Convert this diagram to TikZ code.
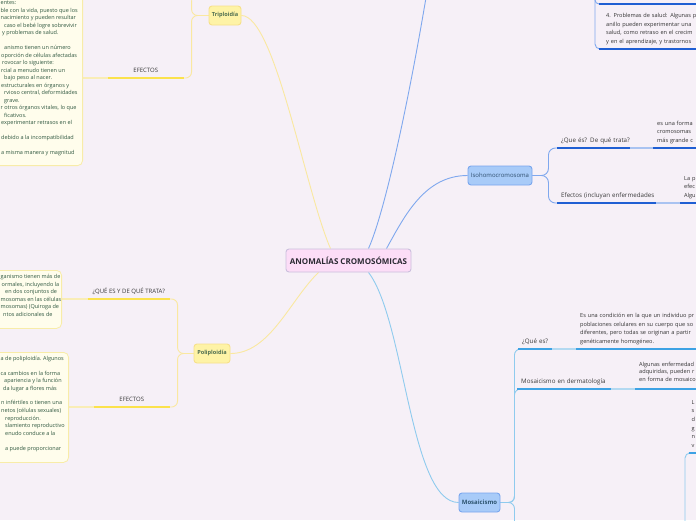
\documentclass[tikz,border=0pt]{standalone}
\usepackage{fontspec}
\setmainfont{Open Sans}
\usetikzlibrary{backgrounds}
\definecolor{bg}{HTML}{F6F0F7}
\definecolor{ctrfill}{HTML}{FCDDF7}
\definecolor{ctrdraw}{HTML}{CBBFDD}
\definecolor{ctrtext}{HTML}{2B2A33}
\definecolor{yfill}{HTML}{FEF3A6}
\definecolor{ydraw}{HTML}{F6E08A}
\definecolor{ytext}{HTML}{4E6E50}
\definecolor{yline}{HTML}{FAE8A0}
\definecolor{yul}{HTML}{FBE24C}
\definecolor{ylight}{HTML}{F9EDB6}
\definecolor{cbfill}{HTML}{FFFDEC}
\definecolor{cbdraw}{HTML}{F8ECA8}
\definecolor{cbtext}{HTML}{305840}
\definecolor{bfill}{HTML}{A8CBF8}
\definecolor{bdraw}{HTML}{79A6EE}
\definecolor{btext}{HTML}{2F4F6F}
\definecolor{mtext}{HTML}{2E5570}
\definecolor{bline}{HTML}{7FA8EE}
\definecolor{bul}{HTML}{1F5FD3}
\definecolor{blight}{HTML}{A9C3F1}
\definecolor{mline}{HTML}{8FCBEE}
\definecolor{mul}{HTML}{3DA2E4}
\definecolor{mlight}{HTML}{B3D9F1}
\definecolor{subtext}{HTML}{3A3A3A}
\definecolor{chtext}{HTML}{333333}
\begin{document}
\begin{tikzpicture}[x=1pt,y=-1pt,
  topic/.style={rounded corners=3pt, line width=0.9pt, inner sep=0pt},
  ctrnode/.style={topic, fill=ctrfill, draw=ctrdraw, text=ctrtext, font=\fontsize{8}{9}\selectfont\bfseries, minimum width=125pt, minimum height=23pt},
  ynode/.style={topic, fill=yfill, draw=ydraw, text=ytext, font=\fontsize{5.6}{7}\selectfont\bfseries, minimum height=19pt},
  bnode/.style={topic, fill=bfill, draw=bdraw, text=btext, font=\fontsize{6}{7}\selectfont, minimum height=19pt},
  mnode/.style={topic, fill=bfill, draw=bdraw, text=mtext, font=\fontsize{6}{7}\selectfont\bfseries, minimum height=19pt},
  subL/.style={anchor=south east, inner xsep=4pt, inner ysep=3pt, minimum width=#1, text=subtext, font=\fontsize{6}{7.2}\selectfont},
  subR/.style={anchor=south west, inner xsep=4pt, inner ysep=3pt, text width=#1, align=left, text=subtext, font=\fontsize{6.2}{7.4}\selectfont},
  child/.style={anchor=south west, inner xsep=4pt, inner ysep=3pt, text width=200pt, align=left, text=chtext, font=\fontsize{5.6}{8.6}\selectfont},
  cbox/.style={draw=cbdraw, fill=cbfill, line width=0.8pt, rounded corners=5pt, inner sep=0pt},
  ltext/.style={anchor=base west, inner sep=0pt, text=cbtext, font=\fontsize{5.5}{6}\selectfont},
  yconn/.style={draw=yline, line width=0.9pt},
  bconn/.style={draw=bline, line width=0.9pt},
  mconn/.style={draw=mline, line width=0.9pt},
  yulst/.style={draw=yul, line width=1.6pt},
  bulst/.style={draw=bul, line width=1.6pt},
  mulst/.style={draw=mul, line width=1.6pt},
  ylt/.style={draw=ylight, line width=1.2pt},
  blt/.style={draw=blight, line width=1.2pt},
  mlt/.style={draw=mlight, line width=1.2pt}
]
\useasboundingbox (0,0) rectangle (696,520);
\begin{scope}
\clip (0,0) rectangle (696,520);
% main topics
\node[ctrnode] (ctr) at (348.5,260.5) {ANOMALÍAS CROMOSÓMICAS};
\node[ynode, minimum width=32pt] (tri) at (225,15.5) {Triploidía};
\node[ynode, minimum width=36pt] (poli) at (212,353.5) {Poliploidía};
\node[bnode, minimum width=64pt] (iso) at (500,175.5) {Isohomocromosoma};
\node[mnode, minimum width=41pt] (mos) at (479.5,502.5) {Mosaicismo};
% off-canvas ends
\coordinate (anillo) at (432,-40);
\coordinate (triup) at (192,-30);
\coordinate (mosdown) at (514.5,560);
\coordinate (trtop) at (595,-40);
\coordinate (tr1) at (599,4);
\coordinate (brdown) at (685,560);
% left subtopics
\node[subL=76pt] (ea) at (184,78) {EFECTOS\strut};
\node[subL=82pt] (qa) at (170,299) {¿QUÉ ES Y DE QUÉ TRATA?\strut};
\node[subL=76pt] (eb) at (170,407) {EFECTOS\strut};
% right subtopics
\node[subR=65pt] (q1) at (557,148) {\mbox{¿Que és? De qué trata?}\strut};
\node[subR=91pt] (q2) at (557,203) {\mbox{Efectos (incluyan enfermedades}\strut};
\node[subR=26pt] (mq) at (518,349) {\mbox{¿Qué es?}\strut};
\node[subR=86pt] (md) at (517,389) {\mbox{Mosaicismo en dermatología}\strut};
% right children
\node[child] (c1) at (653,148) {es una forma\\cromosomas\\más grande c\strut};
\node[child] (c2) at (680,203) {La p\\efec\\Algu\strut};
\node[child] (mc1) at (576,349) {Es una condición en la que un individuo pr\\poblaciones celulares en su cuerpo que so\\diferentes, pero todas se originan a partir\\genéticamente homogéneo.\strut};
\node[child, font=\fontsize{5.6}{7.6}\selectfont, inner ysep=5pt] (mc2) at (635,389) {Algunas enfermedad\\adquiridas, pueden r\\en forma de mosaico\strut};
\node[child, inner xsep=7pt] (tr2) at (599,49) {4. Problemas de salud: Algunas p\\anillo pueden experimentar una\\salud, como retraso en el crecim\\y en el aprendizaje, y trastornos\strut};
\node[child, inner xsep=3pt] (br) at (688.5,453) {L\\s\\d\\g\\n\\v\strut};
% left child boxes
\node[cbox, anchor=south east, minimum width=240pt, minimum height=190pt] (bA) at (83,166) {};
\node[cbox, anchor=north east, minimum width=200pt, minimum height=58pt] (bB) at (62,270) {};
\node[cbox, anchor=north east, minimum width=200pt, minimum height=110pt] (bC) at (69,352) {};
\foreach \lx/\ly/\lt [count=\i] in {
  0.5/4.8/{entes:},
  0.5/12.5/{ble con la vida, puesto que los},
  0.5/19.8/{nacimiento y pueden resultar},
  4/27.2/{caso el bebé logre sobrevivir},
  2/34.8/{y problemas de salud.},
  4/49.8/{anismo tienen un número},
  1/57.2/{oporción de células afectadas},
  2/64.5/{rovocar lo siguiente:},
  1/72.5/{rcial a menudo tienen un},
  4/79.8/{bajo peso al nacer.},
  1/87.8/{estructurales en órganos y},
  4/94.8/{rvioso central, deformidades},
  4/102.2/{grave.},
  0.5/109.8/{r otros órganos vitales, lo que},
  4/117.2/{ficativos.},
  1/124.8/{experimentar retrasos en el},
  1/139.2/{debido a la incompatibilidad},
  1/154.8/{a misma manera y magnitud}}
  \node[ltext] (la\i) at (\lx,\ly) {\lt};
\foreach \lx/\ly/\lt [count=\i] in {
  0.5/278.5/{ganismo tienen más de},
  1.5/286.2/{ormales, incluyendo la},
  5/293.8/{en dos conjuntos de},
  0.5/301.5/{mosomas en las células},
  0.5/308.8/{mosomas) (Quiroga de},
  3/316.8/{ntos adicionales de}}
  \node[ltext] (lb\i) at (\lx,\ly) {\lt};
\foreach \lx/\ly/\lt [count=\i] in {
  0.5/360.5/{a de poliploidía. Algunos},
  0.5/375.5/{ca cambios en la forma},
  4/382.8/{apariencia y la función},
  3/390.5/{da lugar a flores más},
  1/404.8/{n infértiles o tienen una},
  1/412.5/{netos (células sexuales)},
  5/420.5/{reproducción.},
  5/427.8/{slamiento reproductivo},
  5/435.5/{enudo conduce a la},
  5/450.5/{a puede proporcionar}}
  \node[ltext] (lc\i) at (\lx,\ly) {\lt};
% underlines
\draw[yulst] (ea.south west) -- (ea.south east);
\draw[yulst] (qa.south west) -- (qa.south east);
\draw[yulst] (eb.south west) -- (eb.south east);
\draw[bulst] (q1.south west) -- (q1.south east);
\draw[bulst] (q2.south west) -- (q2.south east);
\draw[bulst] (c1.south west) -- (c1.south east);
\draw[bulst] (c2.south west) -- (c2.south east);
\draw[bulst] (tr2.south west) -- (tr2.south east);
\draw[bulst] (tr1) -- ++(120,0);
\draw[mulst] (mq.south west) -- (mq.south east);
\draw[mulst] (md.south west) -- (md.south east);
\draw[mulst] (mc1.south west) -- (mc1.south east);
\draw[mulst] (mc2.south west) -- (mc2.south east);
\draw[mulst] (br.south west) -- (br.south east);
\end{scope}
\begin{scope}[on background layer]
\clip (0,0) rectangle (696,520);
\fill[bg] (0,0) rectangle (696,520);
% connectors from the centre
\draw[yconn] ([xshift=-18pt]ctr.north) .. controls (305,190) and (275,15.5) .. (tri.east);
\draw[yconn] ([xshift=-30pt]ctr.south) .. controls (290,300) and (270,353.5) .. (poli.east);
\draw[bconn] ([xshift=20pt]ctr.north) .. controls (390,200) and (420,40) .. (anillo);
\draw[bconn] ([xshift=38pt]ctr.north) .. controls (405,215) and (425,175.5) .. (iso.west);
\draw[mconn] ([xshift=20pt]ctr.south) .. controls (405,320) and (410,502.5) .. (mos.west);
% brackets
\draw[yconn, rounded corners=6pt] (tri.west) -- ++(-17,0) |- (ea.south east);
\draw[yconn, rounded corners=6pt] (tri.west) -- ++(-17,0) -- (triup);
\draw[yconn, rounded corners=6pt] (poli.west) -- ++(-16,0) |- (qa.south east);
\draw[yconn, rounded corners=6pt] (poli.west) -- ++(-16,0) |- (eb.south east);
\draw[bconn, rounded corners=7pt] (iso.east) -- ++(16,0) |- (q1.south west);
\draw[bconn, rounded corners=7pt] (iso.east) -- ++(16,0) |- (q2.south west);
\draw[mconn, rounded corners=6pt] (mos.east) -- ++(14,0) |- (mq.south west);
\draw[mconn, rounded corners=6pt] (mos.east) -- ++(14,0) |- (md.south west);
\draw[mconn, rounded corners=6pt] (mos.east) -- ++(14,0) -- (mosdown);
\draw[bconn, rounded corners=4pt] (trtop) |- (tr1);
\draw[bconn, rounded corners=5pt] (trtop) |- (tr2.south west);
\draw[mconn, rounded corners=5pt] (brdown) |- (br.south west);
% subtopic to child
\draw[ylt] (ea.south west) -- (ea.south west -| bA.east);
\draw[ylt] (qa.south west) -- (qa.south west -| bB.east);
\draw[ylt] (eb.south west) -- (eb.south west -| bC.east);
\draw[blt] (q1.south east) -- (c1.south west);
\draw[blt] (q2.south east) -- (c2.south west);
\draw[mlt] (mq.south east) -- (mc1.south west);
\draw[mlt] (md.south east) -- (mc2.south west);
\end{scope}
\end{tikzpicture}
\end{document}
